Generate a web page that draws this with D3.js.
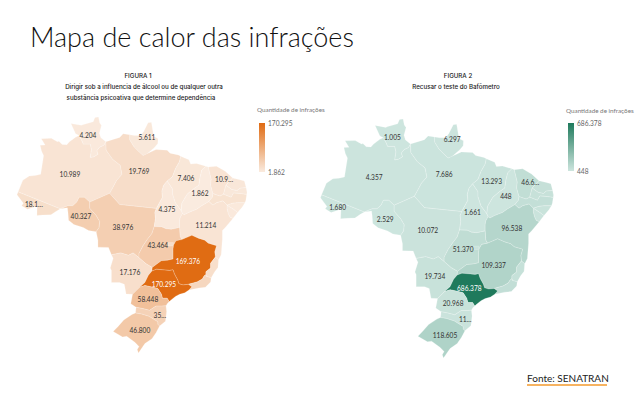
<!DOCTYPE html>
<html lang="pt-BR">
	<head>
		<meta charset="utf-8">
		<script src="https://cdn.jsdelivr.net/npm/d3@7"></script>
		<style>
			body { margin: 0; background: #fff; }
			svg { display: block; }
			.uf-label { font-family: Lato, sans-serif; font-size: 6.6px; text-anchor: middle; dominant-baseline: central; }
			.fig-title { font-family: Inter, sans-serif; font-size: 6.2px; font-weight: 500; text-anchor: middle; fill: #222; }
			.legend-title { font-family: Lato, sans-serif; font-size: 6.3px; fill: #777; }
			.legend text { font-family: Lato, sans-serif; font-size: 6.6px; fill: #666; }
		</style>
	</head>
	<body>
		<svg id="chart" width="640" height="410"></svg>

		<script type="text/javascript">

			var title = "Mapa de calor das infrações";
			var source = "Fonte: SENATRAN";
			var legendTitle = "Quantidade de infrações";

			var figure1Lines = ["FIGURA 1", "Dirigir sob a influencia de álcool ou de qualquer outra", "substância psicoativa que determine dependência"];
			var figure2Lines = ["FIGURA 2", "Recusar o teste do Bafômetro"];

			var ufCodes = ["AC","AM","RR","AP","PA","RO","MT","TO","MA","PI","CE","RN","PB","PE","AL","SE","BA","GO","DF","MS","MG","ES","RJ","SP","PR","SC","RS"];

			// infractions per state, small states have no printed label so they are estimates
			var values1 = [18100,10989,4204,5611,19769,40327,38976,4375,7406,1862,10900,7000,6000,13000,5000,4000,11214,43464,20000,17176,169376,18000,28000,170295,58448,35000,46800];
			var values2 = [1680,4357,1005,6297,7686,2529,10072,1661,13293,448,46600,30000,25000,40000,15000,12000,96538,51370,8000,19734,109337,28000,45000,686378,20968,11000,118605];

			// states that show a number on the map and how many characters fit
			var labelledUfs = ["AC","AM","RR","AP","PA","RO","MT","TO","MA","PI","CE","BA","GO","MS","MG","SP","PR","SC","RS"];
			var labelLon = [-71.1,-64.97,-61.9,-51.85,-53.2,-63.1,-55.94,-48.45,-45.2,-42.8,-38.7,-41.8,-50.0,-54.75,-44.87,-48.96,-51.68,-49.64,-53.05];
			var labelLat = [-9.11,-4.15,2.29,1.96,-3.65,-11.09,-12.91,-9.94,-4.81,-7.29,-4.98,-12.58,-15.89,-20.35,-18.53,-22.33,-24.81,-27.46,-29.94];
			var clipped1 = {AC: 4, CE: 4, SC: 2};
			var clipped2 = {CE: 4, SC: 2};

			// rough outlines in lon/lat, same order as ufCodes
			var ufRings = [
				[[-73.8,-7.1],[-66.6,-9.9],[-67.3,-10.3],[-68.2,-10.9],[-69.6,-10.95],[-70.6,-11],[-70.55,-9.45],[-72.2,-10],[-73.2,-9.4],[-72.9,-9],[-73.99,-7.6]],
				[[-73.8,-7.1],[-73,-5.2],[-71.9,-4.5],[-70.9,-4.4],[-69.95,-4.2],[-69.45,-1.1],[-69.8,-0.4],[-70.05,0.6],[-69.2,0.65],[-69.85,1.7],[-68.15,1.75],[-67.1,1.2],[-66.85,1.25],[-66.3,0.75],[-65.5,0.7],[-65.1,1.15],[-64,1.95],[-63.4,2.2],[-62.9,1.3],[-62.7,0.8],[-61.5,0.8],[-61.3,-0.1],[-61.5,-1.4],[-60.9,-1.3],[-60.2,-0.9],[-60.4,-0.3],[-59.9,0.3],[-59.2,0.6],[-58.85,1.2],[-58.8,-0.2],[-57.7,-1.7],[-56.4,-2.7],[-56.1,-4.2],[-57,-5.2],[-57.6,-6.3],[-58.2,-7.35],[-61.6,-8.8],[-62.5,-8],[-63.4,-8],[-63.8,-8.8],[-64.5,-9.4],[-65.3,-9.4],[-66.6,-9.9]],
				[[-60.7,5.2],[-60.1,5.27],[-59.9,4.3],[-59.6,3.9],[-59.95,2.6],[-59.7,1.85],[-58.85,1.2],[-59.2,0.6],[-59.9,0.3],[-60.4,-0.3],[-60.2,-0.9],[-60.9,-1.3],[-61.5,-1.4],[-61.3,-0.1],[-61.5,0.8],[-62.7,0.8],[-62.9,1.3],[-63.4,2.2],[-64,2.5],[-64.8,4.2],[-64.1,4.1],[-63,3.9],[-62.8,4],[-61,4.5]],
				[[-54.8,2.35],[-53.9,2.2],[-52.9,2.2],[-52.4,2.9],[-51.65,4.35],[-51.1,4.4],[-51,3.9],[-50.7,2.1],[-49.95,1.7],[-50,0.9],[-50.6,0.2],[-51.1,-0.2],[-51.9,-0.9],[-52.5,-1.1],[-53.3,-0.4],[-54.1,0.4],[-54.8,1.5]],
				[[-58.85,1.2],[-56.5,1.9],[-55.9,2.5],[-54.8,2.35],[-54.8,1.5],[-54.1,0.4],[-53.3,-0.4],[-52.5,-1.1],[-50.3,-0.1],[-48.4,-0.2],[-47.9,-0.7],[-46.5,-1],[-46.1,-1.2],[-46.3,-2.1],[-47,-3.3],[-47.5,-4.6],[-48.4,-5.3],[-49,-6],[-49.3,-7],[-49.2,-8],[-50.24,-9.84],[-56.5,-9.2],[-58.2,-7.35],[-57.6,-6.3],[-57,-5.2],[-56.1,-4.2],[-56.4,-2.7],[-57.7,-1.7],[-58.8,-0.2]],
				[[-66.6,-9.9],[-65.3,-9.4],[-64.5,-9.4],[-63.8,-8.8],[-63.4,-8],[-62.5,-8],[-61.6,-8.8],[-61.6,-9.8],[-60.5,-11],[-59.9,-12],[-60,-13],[-60.5,-13.7],[-61.8,-13.5],[-62.7,-13],[-64.3,-12.5],[-65.2,-11.8],[-65.3,-10.5],[-65.4,-9.75]],
				[[-58.2,-7.35],[-56.5,-9.2],[-50.24,-9.84],[-50.5,-10.5],[-50.4,-11.5],[-50.6,-12.85],[-51,-14],[-51.8,-15],[-52.5,-16],[-53.2,-17.3],[-53.2,-18],[-54.2,-17.2],[-55,-17.6],[-56.3,-17.2],[-57.9,-17.5],[-58.4,-16.3],[-60.2,-16.25],[-60.2,-15.1],[-60.5,-13.7],[-60,-13],[-59.9,-12],[-60.5,-11],[-61.6,-9.8],[-61.6,-8.8]],
				[[-48.4,-5.3],[-47.5,-6.6],[-47.5,-7.4],[-47,-8.9],[-46,-10.2],[-45.8,-10.7],[-46.2,-11.4],[-46.3,-12],[-46.3,-13],[-47.7,-13.3],[-48.6,-13.2],[-49.3,-12.9],[-50.6,-12.85],[-50.4,-11.5],[-50.5,-10.5],[-50.24,-9.84],[-49.2,-8],[-49.3,-7],[-49,-6]],
				[[-46.1,-1.2],[-44.7,-1.8],[-44.4,-2.5],[-43.4,-2.4],[-41.8,-2.85],[-42.5,-3.5],[-42.8,-4.7],[-43,-6],[-43.9,-6.6],[-45,-7.5],[-45.9,-9],[-46,-10.2],[-47,-8.9],[-47.5,-7.4],[-47.5,-6.6],[-48.4,-5.3],[-47.5,-4.6],[-47,-3.3],[-46.3,-2.1]],
				[[-41.8,-2.85],[-41.4,-3],[-40.9,-5],[-41,-6],[-40.6,-7.4],[-40.7,-8],[-41.3,-8.7],[-42.5,-9.4],[-43.4,-10],[-44.7,-10.5],[-45.5,-10.9],[-45.8,-10.7],[-46,-10.2],[-45.9,-9],[-45,-7.5],[-43.9,-6.6],[-43,-6],[-42.8,-4.7],[-42.5,-3.5]],
				[[-41.4,-3],[-40,-2.85],[-38.5,-3.7],[-37.25,-4.8],[-38.4,-6],[-38.8,-7.5],[-39.4,-7.8],[-40.6,-7.4],[-41,-6],[-40.9,-5]],
				[[-37.25,-4.8],[-36,-5.1],[-35.25,-5.3],[-34.95,-6.4],[-36,-6.5],[-36.5,-6.9],[-37.4,-6.7],[-38.4,-6]],
				[[-34.95,-6.4],[-34.8,-7.15],[-34.85,-7.55],[-35.8,-7.4],[-37.1,-7.3],[-37.5,-8],[-38.8,-7.5],[-38.4,-6],[-37.4,-6.7],[-36.5,-6.9],[-36,-6.5]],
				[[-34.85,-7.55],[-35,-8.5],[-35.15,-8.9],[-36.4,-8.9],[-37.3,-9],[-38.2,-9.3],[-38.9,-8.6],[-40,-8.9],[-40.6,-9.3],[-41.3,-8.7],[-40.7,-8],[-40.6,-7.4],[-39.4,-7.8],[-38.8,-7.5],[-37.5,-8],[-37.1,-7.3],[-35.8,-7.4]],
				[[-35.15,-8.9],[-35.6,-9.6],[-36.4,-10.5],[-37.1,-10],[-38.2,-9.3],[-37.3,-9],[-36.4,-8.9]],
				[[-36.4,-10.5],[-37.2,-11.5],[-37.7,-11.3],[-38,-10.7],[-38.2,-9.9],[-38.2,-9.3],[-37.1,-10]],
				[[-37.2,-11.5],[-38.5,-13],[-39,-13.5],[-39,-15],[-39.2,-17.5],[-39.65,-18.35],[-40.2,-17.9],[-40.3,-17],[-40,-16],[-41.4,-15.6],[-42,-15.1],[-43,-14.8],[-44.2,-14.3],[-45.9,-15],[-46.2,-14.5],[-46.3,-13],[-46.3,-12],[-46.2,-11.4],[-45.8,-10.7],[-45.5,-10.9],[-44.7,-10.5],[-43.4,-10],[-42.5,-9.4],[-41.3,-8.7],[-40.6,-9.3],[-40,-8.9],[-38.9,-8.6],[-38.2,-9.3],[-38.2,-9.9],[-38,-10.7],[-37.7,-11.3]],
				[[-50.6,-12.85],[-49.3,-12.9],[-48.6,-13.2],[-47.7,-13.3],[-46.3,-13],[-46.2,-14.5],[-45.9,-15],[-46.9,-15.2],[-47.3,-15.9],[-47.4,-16.5],[-47.4,-18.2],[-48.3,-18.4],[-49.4,-18.5],[-50.95,-19.6],[-52,-19],[-53.2,-18],[-53.2,-17.3],[-52.5,-16],[-51.8,-15],[-51,-14]],
				[[-48.28,-15.5],[-47.3,-15.5],[-47.4,-16.05],[-48.28,-16.05]],
				[[-53.2,-18],[-52,-19],[-50.95,-19.6],[-51,-20.2],[-51.6,-20.9],[-52.2,-22.1],[-53.1,-22.9],[-54.3,-24.05],[-55.4,-24],[-55.7,-22.4],[-56.5,-22.1],[-57.9,-22.1],[-57.9,-20.1],[-58.1,-19.7],[-57.6,-18.1],[-57.9,-17.5],[-56.3,-17.2],[-55,-17.6],[-54.2,-17.2]],
				[[-51,-20.2],[-50.95,-19.6],[-49.4,-18.5],[-48.3,-18.4],[-47.4,-18.2],[-47.4,-16.5],[-47.3,-15.9],[-46.9,-15.2],[-45.9,-15],[-44.2,-14.3],[-43,-14.8],[-42,-15.1],[-41.4,-15.6],[-40,-16],[-40.3,-17],[-40.2,-17.9],[-41,-18.9],[-41,-19.7],[-41.8,-20.3],[-41.8,-20.8],[-42.1,-21],[-42.4,-21.5],[-43.3,-22],[-44.8,-22.4],[-45.7,-22.5],[-46.4,-22.3],[-46.6,-21.7],[-47,-21],[-47.2,-20.6],[-47.4,-20],[-48,-20.1],[-49.2,-20],[-50.2,-19.9]],
				[[-39.65,-18.35],[-39.75,-19.6],[-40.3,-20.3],[-40.9,-21.3],[-41.7,-21.1],[-41.8,-20.8],[-41.8,-20.3],[-41,-19.7],[-41,-18.9],[-40.2,-17.9]],
				[[-40.9,-21.3],[-41,-22],[-41.9,-22.9],[-43,-23],[-44.7,-23.35],[-44.2,-22.8],[-44.8,-22.4],[-43.3,-22],[-42.4,-21.5],[-42.1,-21],[-41.8,-20.8],[-41.7,-21.1]],
				[[-51,-20.2],[-50.2,-19.9],[-49.2,-20],[-48,-20.1],[-47.4,-20],[-47.2,-20.6],[-47,-21],[-46.6,-21.7],[-46.4,-22.3],[-45.7,-22.5],[-44.8,-22.4],[-44.2,-22.8],[-44.7,-23.35],[-45.4,-23.8],[-46.3,-24.05],[-47,-24.4],[-47.9,-25.1],[-48.05,-25.25],[-48.4,-24.7],[-49.2,-24.7],[-49.4,-24],[-50,-23.1],[-51,-22.85],[-52.2,-22.6],[-53.1,-22.9],[-52.2,-22.1],[-51.6,-20.9]],
				[[-48.05,-25.25],[-48.4,-25.6],[-48.6,-25.95],[-49.3,-26],[-50.3,-26],[-51.4,-26.7],[-52.6,-26.4],[-53.7,-26.2],[-54.6,-25.6],[-54.3,-24.05],[-53.1,-22.9],[-52.2,-22.6],[-51,-22.85],[-50,-23.1],[-49.4,-24],[-49.2,-24.7],[-48.4,-24.7]],
				[[-48.6,-25.95],[-48.5,-26.9],[-48.6,-27.8],[-48.7,-28.5],[-49.7,-29.3],[-50,-29],[-50,-28.6],[-51.5,-27.7],[-52.8,-27.3],[-53.8,-27.15],[-53.7,-26.2],[-52.6,-26.4],[-51.4,-26.7],[-50.3,-26],[-49.3,-26]],
				[[-49.7,-29.3],[-50.3,-30.4],[-51,-31.4],[-52.2,-32.2],[-53.3,-33.75],[-53.5,-33.2],[-53.2,-32.7],[-53.9,-32],[-55.3,-31],[-56,-31.1],[-57.6,-30.2],[-56.8,-29.4],[-55.8,-28.3],[-54.4,-27.4],[-53.8,-27.15],[-52.8,-27.3],[-51.5,-27.7],[-50,-28.6],[-50,-29]]
			];

			var svg = d3.select("#chart");

			var brFormat = d3.formatLocale({decimal: ",", thousands: ".", grouping: [3], currency: ["R$", ""]}).format(",d");

			//geojson features, ring direction has to suit d3's spherical polygons
			var features = ufCodes.map((code, i) => {
				var f = {type: "Feature", properties: {code: code}, geometry: {type: "Polygon", coordinates: [ufRings[i].concat([ufRings[i][0]])]}};
				if (d3.geoArea(f) > 2 * Math.PI) f.geometry.coordinates[0].reverse();
				return f;
			});
			var brazil = {type: "FeatureCollection", features: features};

			//plain lon/lat grid, slightly taller than wide like the source map
			function stretchedPlate(lambda, phi) {
				return [lambda, 1.03 * phi];
			}

			svg.append("text")
				.attr("x", 30)
				.attr("y", 47)
				.attr("font-family", "Lato, sans-serif")
				.attr("font-weight", 300)
				.attr("font-size", 27)
				.attr("fill", "#111")
				.text(title);

			drawFigure({
				id: "fig1", values: values1, clipped: clipped1, lines: figure1Lines,
				colors: ["#faebdf", "#e06b12"], box: [[17, 117], [247, 353]],
				titleX: [138, 144, 141], titleY: 78.3,
				legendTitleX: 257, legendTitleY: 112, barX: 259, barY: [123, 172]
			});
			drawFigure({
				id: "fig2", values: values2, clipped: clipped2, lines: figure2Lines,
				colors: ["#cde5de", "#1f7a5c"], box: [[320, 119], [554, 358]],
				titleX: [458, 456], titleY: 78.3,
				legendTitleX: 566, legendTitleY: 113, barX: 568, barY: [123, 171]
			});

			function drawFigure(fig) {
				var projection = d3.geoProjection(stretchedPlate).fitExtent(fig.box, brazil);
				var path = d3.geoPath().projection(projection);

				var extent = d3.extent(labelledUfs, code => fig.values[ufCodes.indexOf(code)]);
				var color = d3.scaleLinear().domain(extent).range(fig.colors).clamp(true);

				var g = svg.append("g").attr("id", fig.id);

				g.selectAll("path")
					.data(features)
					.enter()
					.append("path")
					.attr("d", path)
					.attr("name", d => d.properties.code)
					.attr("fill", (d, i) => color(fig.values[i]))
					.attr("stroke", "#fff")
					.attr("stroke-opacity", 0.4)
					.attr("stroke-width", 0.5)
					.attr("stroke-linejoin", "round");

				//numbers on top of the states
				g.selectAll("text.uf-label")
					.data(labelledUfs)
					.enter()
					.append("text")
					.attr("class", "uf-label")
					.attr("x", (d, i) => projection([labelLon[i], labelLat[i]])[0])
					.attr("y", (d, i) => projection([labelLon[i], labelLat[i]])[1])
					.attr("fill", d => fig.values[ufCodes.indexOf(d)] > extent[1] * 0.6 ? "#fff" : "#333")
					.text(d => {
						var s = brFormat(fig.values[ufCodes.indexOf(d)]);
						return fig.clipped[d] ? s.slice(0, fig.clipped[d]) + "…" : s;
					});

				//figure headings
				svg.selectAll("text.h-" + fig.id)
					.data(fig.lines)
					.enter()
					.append("text")
					.attr("class", "fig-title h-" + fig.id)
					.attr("x", (d, i) => fig.titleX[i])
					.attr("y", (d, i) => fig.titleY + i * 10.7)
					.text(d => d);

				//legend
				var grad = svg.append("defs").append("linearGradient")
					.attr("id", "grad-" + fig.id)
					.attr("x1", 0).attr("x2", 0).attr("y1", 1).attr("y2", 0);
				grad.selectAll("stop")
					.data(fig.colors)
					.enter()
					.append("stop")
					.attr("offset", (d, i) => i * 100 + "%")
					.attr("stop-color", d => d);

				svg.append("text")
					.attr("class", "legend-title")
					.attr("x", fig.legendTitleX)
					.attr("y", fig.legendTitleY)
					.text(legendTitle);

				svg.append("rect")
					.attr("x", fig.barX)
					.attr("y", fig.barY[0])
					.attr("width", 6)
					.attr("height", fig.barY[1] - fig.barY[0])
					.attr("fill", "url(#grad-" + fig.id + ")");

				var legendScale = d3.scaleLinear().domain(extent).range([fig.barY[1], fig.barY[0]]);
				var legendAxis = svg.append("g")
					.attr("class", "legend")
					.attr("transform", "translate(" + (fig.barX + 6) + ",0)")
					.call(d3.axisRight(legendScale).tickValues(extent).tickSize(0).tickPadding(3).tickFormat(brFormat));
				legendAxis.select(".domain").remove();
			}

			//source with the orange rule
			svg.append("text")
				.attr("x", 527)
				.attr("y", 382)
				.attr("font-family", "Lato, sans-serif")
				.attr("font-size", 10)
				.attr("fill", "#222")
				.text(source);
			svg.append("line")
				.attr("x1", 527)
				.attr("x2", 607)
				.attr("y1", 385)
				.attr("y2", 385)
				.attr("stroke", "#f39a2d")
				.attr("stroke-width", 1.6);

		</script>
	</body>
</html>
